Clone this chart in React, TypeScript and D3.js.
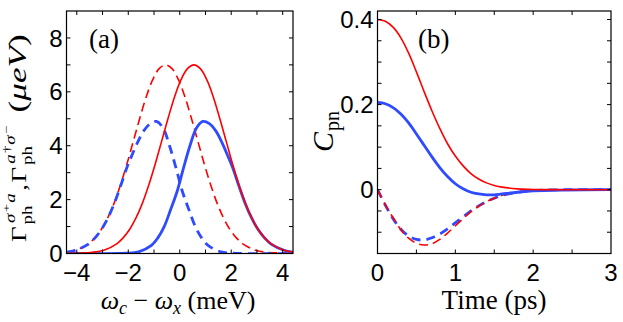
import React from "react";
import * as d3 from "d3";

// ---- panel (a) : rates vs detuning ----
const aRedSolidX = [-4.4, -3.45, -2.95, -2.45, -2.2, -1.95, -1.7, -1.45, -1.2, -0.95, -0.7, -0.45, -0.2, 0.05, 0.3, 0.55, 0.8, 1.05, 1.3, 1.55, 1.8, 2.05, 2.3, 2.55, 2.8, 3.05, 3.3, 3.55, 4.05, 4.4];
const aRedSolid = [0.01, 0.04, 0.12, 0.36, 0.58, 0.89, 1.32, 1.87, 2.55, 3.33, 4.18, 5.03, 5.82, 6.45, 6.86, 7.0, 6.86, 6.45, 5.82, 5.03, 4.18, 3.33, 2.55, 1.87, 1.32, 0.89, 0.58, 0.36, 0.12, 0.05];
const aRedDashX = [-4.4, -4.05, -3.55, -3.3, -3.05, -2.8, -2.55, -2.3, -2.05, -1.8, -1.55, -1.3, -1.05, -0.8, -0.55, -0.3, -0.05, 0.2, 0.45, 0.7, 0.95, 1.2, 1.45, 1.7, 1.95, 2.2, 2.45, 2.95, 3.45, 4.4];
const aRedDash = [0.05, 0.12, 0.36, 0.58, 0.89, 1.32, 1.87, 2.55, 3.33, 4.18, 5.03, 5.82, 6.45, 6.86, 7.0, 6.86, 6.45, 5.82, 5.03, 4.18, 3.33, 2.55, 1.87, 1.32, 0.89, 0.58, 0.36, 0.12, 0.04, 0.01];
const aBlueSolidX = [-4.4, -2.1, -1.6, -1.1, -0.85, -0.6, -0.35, -0.1, 0.15, 0.4, 0.65, 0.9, 1.15, 1.4, 1.65, 1.9, 2.05, 2.3, 2.55, 2.8, 3.05, 3.3, 3.55, 4.05, 4.4];
const aBlueSolid = [0.0, 0.01, 0.06, 0.3, 0.58, 1.01, 1.64, 2.31, 3.19, 4.01, 4.66, 4.9, 4.82, 4.55, 4.1, 3.55, 3.2, 2.5, 1.84, 1.3, 0.88, 0.57, 0.35, 0.12, 0.05];
const aBlueDashX = [-4.4, -4.05, -3.55, -3.3, -3.05, -2.8, -2.55, -2.3, -2.05, -1.9, -1.65, -1.4, -1.15, -0.9, -0.65, -0.4, -0.15, 0.1, 0.35, 0.6, 0.85, 1.1, 1.6, 2.1, 4.4];
const aBlueDash = [0.05, 0.12, 0.35, 0.57, 0.88, 1.3, 1.84, 2.5, 3.2, 3.55, 4.1, 4.55, 4.82, 4.9, 4.66, 4.01, 3.19, 2.31, 1.64, 1.01, 0.58, 0.3, 0.06, 0.01, 0.0];

// ---- panel (b) : correlation vs time ----
const bT = [0, 0.1, 0.2, 0.3, 0.4, 0.5, 0.6, 0.7, 0.8, 0.9, 1.0, 1.1, 1.2, 1.3, 1.4, 1.5, 1.6, 1.8, 2.0, 2.4, 3.0];
const bRedSolid = [0.4, 0.396, 0.382, 0.357, 0.321, 0.277, 0.23, 0.185, 0.144, 0.108, 0.079, 0.056, 0.038, 0.025, 0.016, 0.01, 0.006, 0.002, 0.0005, 0, 0];
const bBlueSolid = [0.205, 0.202, 0.193, 0.178, 0.157, 0.131, 0.104, 0.077, 0.052, 0.031, 0.014, 0.002, -0.006, -0.01, -0.012, -0.012, -0.01, -0.006, -0.003, -0.001, 0];
const bRedDash = [0, -0.035, -0.066, -0.094, -0.114, -0.126, -0.13, -0.127, -0.117, -0.102, -0.085, -0.068, -0.052, -0.039, -0.028, -0.02, -0.013, -0.006, -0.002, 0, 0];
const bBlueDash = [0, -0.036, -0.068, -0.093, -0.109, -0.117, -0.118, -0.113, -0.104, -0.092, -0.078, -0.064, -0.05, -0.038, -0.028, -0.02, -0.013, -0.006, -0.002, 0, 0];

// ticks
const aXLabels = [-4, -2, 0, 2, 4];
const aYLabels = [0, 2, 4, 6, 8];
const aXMinor = [-4, -3, -2, -1, 0, 1, 2, 3, 4];
const aYMinor = [1, 2, 3, 4, 5, 6, 7, 8];
const bXLabels = [0, 1, 2, 3];
const bYLabels = [0, 0.2, 0.4];
const bXMinor = [0.5, 1, 1.5, 2, 2.5];
const bYMinor = [-0.1, -0.05, 0, 0.05, 0.1, 0.15, 0.2, 0.25, 0.3, 0.35, 0.4];

const RED = "#ff0000";
const BLUE = "#2f4bff";
const SANS = "'Liberation Sans', Arial, sans-serif";
const SERIF = "'Liberation Serif', 'DejaVu Serif', serif";

const boxA = { l: 66.5, r: 293, t: 11, b: 253.5 };
const boxB = { l: 377.5, r: 611, t: 11, b: 253.5 };

function Frame({ box, x, y, xMinor, yMinor, xLabels, yLabels, fmtY }: any) {
  const tl = 4;
  return (
    <g>
      {xMinor.map((v: number, i: number) => (
        <g key={"x" + i} stroke="#000" strokeWidth={1}>
          <line x1={x(v)} x2={x(v)} y1={box.b} y2={box.b - tl} />
          <line x1={x(v)} x2={x(v)} y1={box.t} y2={box.t + tl} />
        </g>
      ))}
      {yMinor.map((v: number, i: number) => (
        <g key={"y" + i} stroke="#000" strokeWidth={1}>
          <line x1={box.l} x2={box.l + tl} y1={y(v)} y2={y(v)} />
          <line x1={box.r} x2={box.r - tl} y1={y(v)} y2={y(v)} />
        </g>
      ))}
      <rect x={box.l} y={box.t} width={box.r - box.l} height={box.b - box.t} fill="none" stroke="#000" strokeWidth={1.2} />
      {xLabels.map((v: number, i: number) => (
        <text key={"xl" + i} x={x(v)} y={281} textAnchor="middle" style={{ fontFamily: SANS }} fontSize={24}>
          {v < 0 ? "\u2212" + Math.abs(v) : String(v)}
        </text>
      ))}
      {yLabels.map((v: number, i: number) => (
        <text key={"yl" + i} x={box.l - 4} y={y(v)} dy="0.36em" textAnchor="end" style={{ fontFamily: SANS }} fontSize={24}>
          {fmtY(v)}
        </text>
      ))}
    </g>
  );
}

export default function App() {
  const xA = d3.scaleLinear().domain([-4.4, 4.4]).range([boxA.l, boxA.r]);
  const yA = d3.scaleLinear().domain([0, 9]).range([boxA.b, boxA.t]);
  const xB = d3.scaleLinear().domain([0, 3]).range([boxB.l, boxB.r]);
  const yB = d3.scaleLinear().domain([-0.15, 0.42]).range([boxB.b, boxB.t]);

  const lineA = (xs: number[], ys: number[]) =>
    d3.line<number>().x((_, i) => xA(xs[i])).y((d) => yA(d)).curve(d3.curveCatmullRom.alpha(0.5))(ys) || "";
  const lineB = (ys: number[]) =>
    d3.line<number>().x((_, i) => xB(bT[i])).y((d) => yB(d)).curve(d3.curveCatmullRom.alpha(0.5))(ys) || "";

  const serif = { fontFamily: SERIF };

  return (
    <svg width={623} height={322} style={{ position: "absolute", left: 0, top: 0, background: "#fff" }}>
      <defs>
        <clipPath id="clipA"><rect x={boxA.l} y={boxA.t} width={boxA.r - boxA.l} height={boxA.b - boxA.t} /></clipPath>
        <clipPath id="clipB"><rect x={boxB.l} y={boxB.t} width={boxB.r - boxB.l} height={boxB.b - boxB.t} /></clipPath>
      </defs>

      {/* panel (a) */}
      <g clipPath="url(#clipA)" fill="none">
        <path d={lineA(aRedDashX, aRedDash)} stroke={RED} strokeWidth={1.6} strokeDasharray="9 5" />
        <path d={lineA(aBlueDashX, aBlueDash)} stroke={BLUE} strokeWidth={2.8} strokeDasharray="9 6" />
        <path d={lineA(aBlueSolidX, aBlueSolid)} stroke={BLUE} strokeWidth={2.8} />
        <path d={lineA(aRedSolidX, aRedSolid)} stroke={RED} strokeWidth={1.6} />
      </g>
      <Frame box={boxA} x={xA} y={yA} xMinor={aXMinor} yMinor={aYMinor} xLabels={aXLabels} yLabels={aYLabels} fmtY={(v: number) => String(v)} />
      <text x={89} y={48} style={serif} fontSize={27}>(a)</text>

      <text x={178} y={309} textAnchor="middle" style={serif} fontSize={26}>
        <tspan fontStyle="italic">ω</tspan>
        <tspan fontStyle="italic" fontSize={18} dy={5}>c</tspan>
        <tspan dy={-5}>{" \u2212 "}</tspan>
        <tspan fontStyle="italic">ω</tspan>
        <tspan fontStyle="italic" fontSize={18} dy={5}>x</tspan>
        <tspan dy={-5}>{"  (meV)"}</tspan>
      </text>

      <g transform="translate(26,242) rotate(-90) scale(1.35,1)" style={serif}>
        <text x={0} y={0} fontSize={20}>Γ</text>
        <text x={13} y={6} fontSize={14}>ph</text>
        <text x={14} y={-11} fontSize={14} fontStyle="italic">σ</text>
        <text x={22} y={-16} fontSize={11}>+</text>
        <text x={29} y={-11} fontSize={14} fontStyle="italic">a</text>
        <text x={38} y={0} fontSize={20}>,</text>
        <text x={44} y={0} fontSize={20}>Γ</text>
        <text x={57} y={6} fontSize={14}>ph</text>
        <text x={58} y={-11} fontSize={14} fontStyle="italic">a</text>
        <text x={66} y={-16} fontSize={11}>†</text>
        <text x={72} y={-11} fontSize={14} fontStyle="italic">σ</text>
        <text x={80} y={-16} fontSize={11}>−</text>
        <text x={96} y={0} fontSize={26}>
          <tspan>(</tspan><tspan fontStyle="italic">μeV</tspan><tspan>)</tspan>
        </text>
      </g>

      {/* panel (b) */}
      <g clipPath="url(#clipB)" fill="none">
        <path d={lineB(bBlueDash)} stroke={BLUE} strokeWidth={2.8} strokeDasharray="9 6" />
        <path d={lineB(bRedDash)} stroke={RED} strokeWidth={1.6} strokeDasharray="9 5" />
        <path d={lineB(bBlueSolid)} stroke={BLUE} strokeWidth={2.8} />
        <path d={lineB(bRedSolid)} stroke={RED} strokeWidth={1.6} />
      </g>
      <Frame box={boxB} x={xB} y={yB} xMinor={bXMinor} yMinor={bYMinor} xLabels={bXLabels} yLabels={bYLabels} fmtY={(v: number) => (v === 0 ? "0" : v.toFixed(1))} />
      <text x={418} y={48} style={serif} fontSize={27}>(b)</text>

      <text x={494} y={309} textAnchor="middle" style={serif} fontSize={27}>Time (ps)</text>

      <g transform="translate(333,152) rotate(-90)" style={serif}>
        <text x={0} y={0} fontSize={30} fontStyle="italic">C</text>
        <text x={21} y={6} fontSize={20}>pn</text>
      </g>
    </svg>
  );
}
